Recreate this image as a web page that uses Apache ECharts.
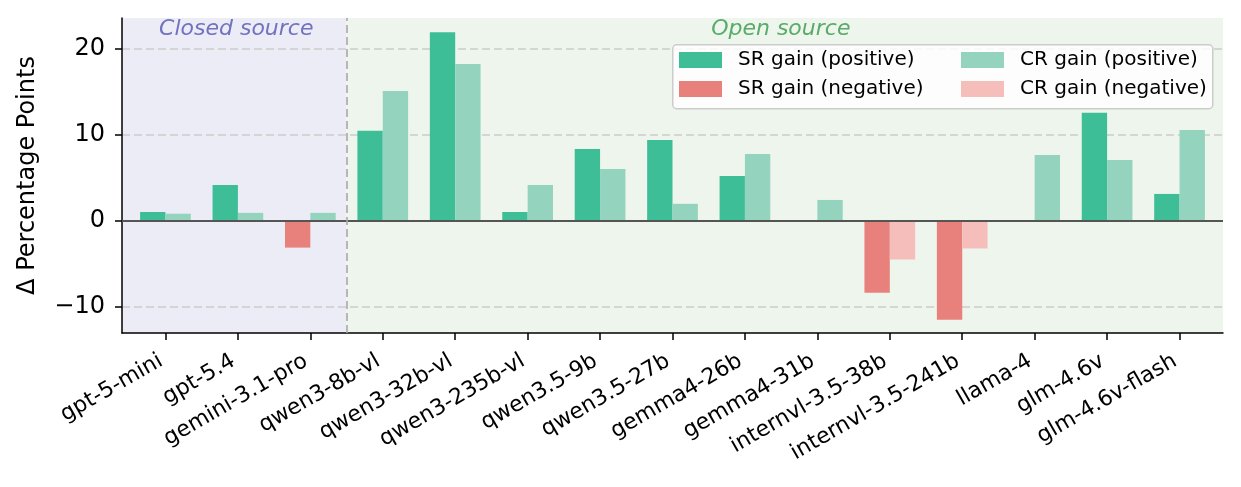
<!DOCTYPE html>
<html>
<head>
<meta charset="utf-8">
<script src="https://cdn.jsdelivr.net/npm/echarts@6/dist/echarts.min.js"></script>
<style>
  html, body { margin: 0; padding: 0; background: #fff; }
  #chart { width: 1241px; height: 487px; }
</style>
</head>
<body>
<div id="chart"></div>
<script>
// model names along the x axis
const models = [
  "gpt-5-mini", "gpt-5.4", "gemini-3.1-pro", "qwen3-8b-vl", "qwen3-32b-vl",
  "qwen3-235b-vl", "qwen3.5-9b", "qwen3.5-27b", "gemma4-26b", "gemma4-31b",
  "internvl-3.5-38b", "internvl-3.5-241b", "llama-4", "glm-4.6v", "glm-4.6v-flash",
];
// SR / CR gain in percentage points
const srGain = [1.0, 4.15, -3.15, 10.45, 21.95, 1.0, 8.35, 9.4, 5.2, 0, -8.4, -11.55, 0, 12.55, 3.1];
const crGain = [0.8, 0.9, 0.9, 15.1, 18.25, 4.15, 6.0, 1.95, 7.75, 2.4, -4.55, -3.25, 7.65, 7.05, 10.55];
// first N models are closed source
const closedCount = 3;
const regionNames = ["Closed source", "Open source"];
const yTicks = [-10, 0, 10, 20];

const FONT = "DejaVu Sans";
const chart = echarts.init(document.getElementById("chart"));

const xTicks = models.map((_, i) => i);
const split = closedCount - 0.5;
const pos = (arr) => arr.map((v, i) => [i, v > 0 ? v : "-"]);
const neg = (arr) => arr.map((v, i) => [i, v < 0 ? v : "-"]);

const axisLineStyle = { color: "#000", width: 1.5 };

const legendBase = {
  orient: "vertical",
  top: 50,
  padding: 0,
  icon: "rect",
  itemWidth: 43,
  itemHeight: 16,
  itemGap: 9,
  selectedMode: false,
  textStyle: {
    fontFamily: FONT,
    fontSize: 20,
    lineHeight: 20,
    color: "#000",
    padding: [0, 0, 0, 11],
  },
};

const barSeries = (name, stack, color, data) => ({
  name,
  type: "bar",
  stack,
  barWidth: "35%",
  barGap: "0%",
  itemStyle: { color },
  data,
});

const option = {
  animation: false,
  backgroundColor: "#fff",
  grid: { left: 122, right: 18, top: 18, bottom: 154, outerBoundsMode: "none" },
  legend: [
    { ...legendBase, left: 679, data: ["SR gain (positive)", "SR gain (negative)"] },
    { ...legendBase, left: 961, data: ["CR gain (positive)", "CR gain (negative)"] },
  ],
  graphic: [
    {
      type: "rect",
      left: 672,
      top: 44,
      z: 3,
      shape: { width: 540, height: 64, r: 4 },
      style: { fill: "rgba(255,255,255,0.82)", stroke: "#cccccc", lineWidth: 1.5 },
    },
  ],
  xAxis: {
    type: "value",
    min: -0.6,
    max: 14.6,
    z: 1.5,
    axisLine: { onZero: false, lineStyle: axisLineStyle },
    axisTick: { show: true, length: 7, customValues: xTicks, lineStyle: axisLineStyle },
    axisLabel: {
      customValues: xTicks,
      rotate: 30,
      margin: 24,
      padding: [0, 5, 0, 0],
      fontFamily: FONT,
      fontSize: 22,
      color: "#000",
      formatter: (v) => models[Math.round(v)],
    },
    splitLine: { show: false },
  },
  yAxis: {
    type: "value",
    min: -13.1,
    max: 23.6,
    z: 1.5,
    name: "\u0394 Percentage Points",
    nameLocation: "middle",
    nameRotate: 90,
    nameGap: 82,
    nameTextStyle: { fontFamily: FONT, fontSize: 24, color: "#000" },
    axisLine: { show: true, onZero: false, lineStyle: axisLineStyle },
    axisTick: { show: true, length: 7, customValues: yTicks, lineStyle: axisLineStyle },
    axisLabel: {
      customValues: yTicks,
      margin: 17,
      fontFamily: FONT,
      fontSize: 24,
      color: "#000",
      formatter: (v) => (v < 0 ? "\u2212" + Math.abs(v) : String(v)),
    },
    splitLine: { show: true, lineStyle: { color: "#cccccc", width: 1.5, type: [8, 4] } },
  },
  series: [
    barSeries("SR gain (positive)", "sr", "#3dbe97", pos(srGain)),
    barSeries("SR gain (negative)", "sr", "#e8807b", neg(srGain)),
    barSeries("CR gain (positive)", "cr", "#94d4bf", pos(crGain)),
    barSeries("CR gain (negative)", "cr", "#f5bebb", neg(crGain)),
    {
      // helper series: region shading, zero line and divider
      name: "regions",
      type: "line",
      data: [],
      silent: true,
      markArea: {
        silent: true,
        label: {
          position: "insideTop",
          distance: 0,
          offset: [0, 0],
          fontFamily: FONT,
          fontSize: 22,
          fontStyle: "italic",
        },
        data: [
          [
            { xAxis: -0.6, name: regionNames[0], itemStyle: { color: "#ececf6" }, label: { color: "#7272c0", offset: [2, 0] } },
            { xAxis: split },
          ],
          [
            { xAxis: split, name: regionNames[1], itemStyle: { color: "#eef5ec" }, label: { color: "#58ab68", offset: [-4, 0] } },
            { xAxis: 14.6 },
          ],
        ],
      },
      markLine: {
        silent: true,
        symbol: "none",
        label: { show: false },
        data: [
          { yAxis: 0, lineStyle: { color: "#555555", width: 2, type: "solid" } },
          { xAxis: split, lineStyle: { color: "#a8a8a8", width: 1.6, type: [8, 4] } },
        ],
      },
    },
  ],
};

chart.setOption(option);
</script>
</body>
</html>
